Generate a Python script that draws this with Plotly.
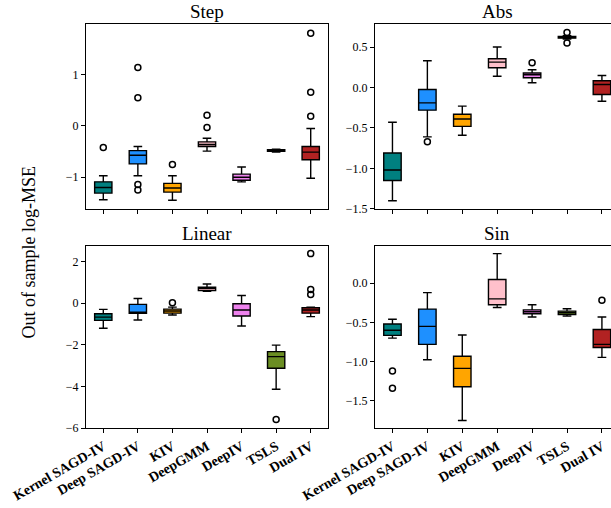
import plotly.graph_objects as go

METHODS = ["Kernel SAGD-IV", "Deep SAGD-IV", "KIV", "DeepGMM", "DeepIV", "TSLS", "Dual IV"]
COLORS = ["#008080", "#1E90FF", "#FFA500", "#FFC0CB", "#EE82EE", "#6B8E23", "#B22222"]

# Step
STEP_LOWER = [-1.44, -0.97, -1.45, -0.49, -1.09, -0.51, -1.02]
STEP_Q1 = [-1.31, -0.74, -1.29, -0.40, -1.06, -0.495, -0.66]
STEP_MEDIAN = [-1.20, -0.57, -1.21, -0.36, -1.00, -0.48, -0.51]
STEP_Q3 = [-1.09, -0.48, -1.12, -0.31, -0.94, -0.465, -0.40]
STEP_UPPER = [-0.97, -0.40, -0.97, -0.24, -0.80, -0.455, -0.05]
STEP_OUTLIERS = [[-0.42], [1.14, 0.55, -1.14, -1.25], [-0.75], [0.21, -0.03], [], [], [1.81, 0.66, 0.19]]

# Abs
ABS_LOWER = [-1.40, -0.61, -0.59, 0.14, 0.058, 0.60, -0.17]
ABS_Q1 = [-1.15, -0.28, -0.48, 0.244, 0.12, 0.61, -0.087]
ABS_MEDIAN = [-1.02, -0.19, -0.39, 0.314, 0.157, 0.62, 0.037]
ABS_Q3 = [-0.81, -0.025, -0.33, 0.355, 0.18, 0.63, 0.083]
ABS_UPPER = [-0.43, 0.33, -0.23, 0.50, 0.22, 0.64, 0.149]
ABS_OUTLIERS = [[], [-0.67], [], [], [0.306], [0.68, 0.55], []]

# Linear
LIN_LOWER = [-1.21, -0.81, -0.57, 0.57, -1.10, -4.14, -0.65]
LIN_Q1 = [-0.83, -0.49, -0.48, 0.60, -0.62, -3.13, -0.48]
LIN_MEDIAN = [-0.67, -0.43, -0.38, 0.70, -0.33, -2.57, -0.33]
LIN_Q3 = [-0.51, -0.06, -0.29, 0.76, -0.03, -2.33, -0.22]
LIN_UPPER = [-0.30, 0.22, -0.19, 0.92, 0.37, -2.02, -0.19]
LIN_OUTLIERS = [[], [], [0.02], [], [], [-5.59], [2.38, 0.65, 0.41]]

# Sin
SIN_LOWER = [-0.70, -0.975, -1.75, -0.31, -0.43, -0.42, -0.945]
SIN_Q1 = [-0.665, -0.78, -1.32, -0.275, -0.39, -0.40, -0.82]
SIN_MEDIAN = [-0.60, -0.55, -1.085, -0.20, -0.364, -0.377, -0.78]
SIN_Q3 = [-0.52, -0.33, -0.93, 0.047, -0.34, -0.356, -0.59]
SIN_UPPER = [-0.46, -0.12, -0.66, 0.377, -0.275, -0.326, -0.43]
SIN_OUTLIERS = [[-1.12, -1.34], [], [], [], [], [], [-0.216]]

PANELS = [
    ("Step", STEP_LOWER, STEP_Q1, STEP_MEDIAN, STEP_Q3, STEP_UPPER, STEP_OUTLIERS),
    ("Abs", ABS_LOWER, ABS_Q1, ABS_MEDIAN, ABS_Q3, ABS_UPPER, ABS_OUTLIERS),
    ("Linear", LIN_LOWER, LIN_Q1, LIN_MEDIAN, LIN_Q3, LIN_UPPER, LIN_OUTLIERS),
    ("Sin", SIN_LOWER, SIN_Q1, SIN_MEDIAN, SIN_Q3, SIN_UPPER, SIN_OUTLIERS),
]

W, H = 611, 508
SERIF = "Liberation Serif, DejaVu Serif, serif"

# page-pixel geometry of the four panels (left, right, top, bottom)
GEOM = [
    (86, 328, 24, 209),
    (375, 611, 24, 209),
    (86, 328, 245.7, 428),
    (375, 611, 245.7, 428),
]
XRANGES = [[-0.5, 6.5], [-0.5, 6.26], [-0.5, 6.5], [-0.5, 6.26]]
YRANGES = [[-1.62, 1.99], [-1.502, 0.785], [-6.0, 2.76], [-1.845, 0.478]]
YTICKS = [[-1, 0, 1], [-1.5, -1.0, -0.5, 0.0, 0.5], [-6, -4, -2, 0, 2], [-1.5, -1.0, -0.5, 0.0]]
YFMT = ["d", ".1f", "d", ".1f"]
TITLE_X = [207, 497, 207, 497]


def px(v):
    return v / W


def py(v):
    return (H - v) / H


fig = go.Figure()
layout = {}
annotations = []

for p, (name, lo, q1, med, q3, up, outl) in enumerate(PANELS):
    sfx = "" if p == 0 else str(p + 1)
    xa, ya = "x" + sfx, "y" + sfx
    for i, m in enumerate(METHODS):
        fig.add_trace(go.Box(
            x=[m], lowerfence=[lo[i]], q1=[q1[i]], median=[med[i]], q3=[q3[i]], upperfence=[up[i]],
            fillcolor=COLORS[i], line=dict(color="black", width=1.4), width=0.5, whiskerwidth=0.5,
            boxpoints=False, xaxis=xa, yaxis=ya, showlegend=False, hoverinfo="skip",
        ))
        if outl[i]:
            fig.add_trace(go.Scatter(
                x=[m] * len(outl[i]), y=outl[i], mode="markers",
                marker=dict(symbol="circle-open", size=6, color="black", line=dict(width=1.5)),
                xaxis=xa, yaxis=ya, showlegend=False, hoverinfo="skip", cliponaxis=False,
            ))
    l, r, t, b = GEOM[p]
    bottom_row = p >= 2
    left_col = p % 2 == 0
    layout["xaxis" + sfx] = dict(
        domain=[px(l), px(r)], anchor=ya, type="category", categoryorder="array",
        categoryarray=METHODS, range=XRANGES[p], showline=True, linecolor="black", linewidth=1.2,
        mirror=True, ticks="outside", ticklen=4, tickwidth=1.2, tickcolor="black",
        showticklabels=bottom_row, tickangle=-30, showgrid=False, zeroline=False, automargin=False,
        tickfont=dict(family=SERIF, size=14, color="black", weight="bold"),
    )
    layout["yaxis" + sfx] = dict(
        domain=[py(b), py(t)], anchor=xa, range=YRANGES[p], tickvals=YTICKS[p],
        tickformat=YFMT[p], showline=True, linecolor="black", linewidth=1.2, mirror=left_col,
        ticks="outside", ticklen=4, tickwidth=1.2, tickcolor="black", showgrid=False, zeroline=False,
        automargin=False, tickfont=dict(family=SERIF, size=12, color="black"),
    )
    annotations.append(dict(
        text=name, x=px(TITLE_X[p]), y=py(t - 1), xref="paper", yref="paper",
        xanchor="center", yanchor="bottom", showarrow=False, borderpad=0,
        font=dict(family=SERIF, size=19, color="black"),
    ))

annotations.append(dict(
    text="Out of sample log-MSE", x=px(28.5), y=py(252), xref="paper", yref="paper",
    xanchor="center", yanchor="middle", textangle=-90, showarrow=False,
    font=dict(family=SERIF, size=18, color="black"),
))

fig.update_layout(
    width=W, height=H, margin=dict(l=0, r=0, t=0, b=0, autoexpand=False),
    plot_bgcolor="white", paper_bgcolor="white",
    annotations=annotations, boxgap=0.5, **layout,
)

fig.write_html("out.html", config={"displayModeBar": False},
               post_script="document.body.style.margin='0px';")
